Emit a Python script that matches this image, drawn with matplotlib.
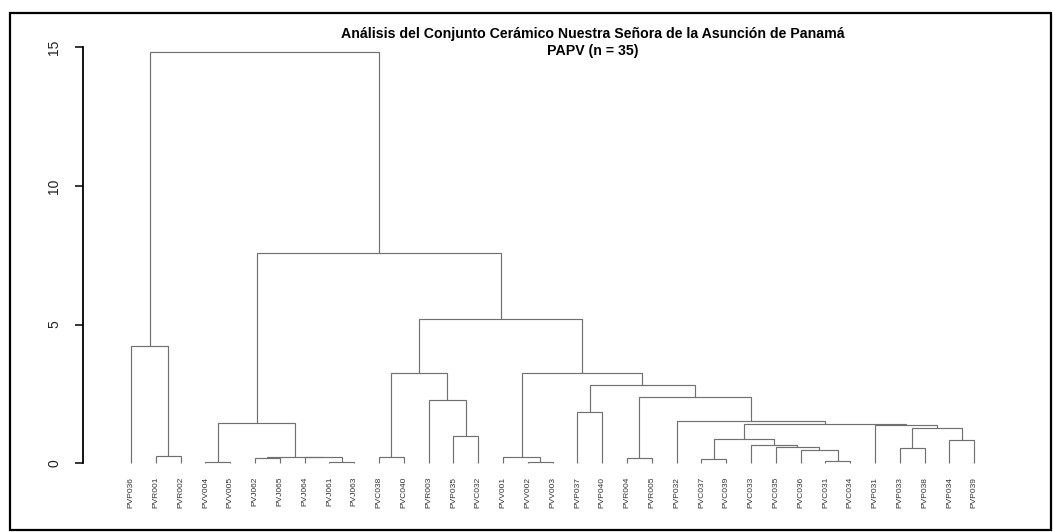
import matplotlib
matplotlib.use("Agg")
import matplotlib.pyplot as plt
import matplotlib.transforms as mtransforms
from matplotlib.patches import Rectangle

# ---- data -----------------------------------------------------------------
title_line1 = "Análisis del Conjunto Cerámico Nuestra Señora de la Asunción de Panamá"
title_line2 = "PAPV (n = 35)"

leaf_labels = [
    "PVP036", "PVR001", "PVR002", "PVV004", "PVV005", "PVJ062", "PVJ065",
    "PVJ064", "PVJ061", "PVJ063", "PVC038", "PVC040", "PVR003", "PVP035",
    "PVC032", "PVV001", "PVV002", "PVV003", "PVP037", "PVP040", "PVR004",
    "PVR005", "PVP032", "PVC037", "PVC039", "PVC033", "PVC035", "PVC036",
    "PVC031", "PVC034", "PVP031", "PVP033", "PVP038", "PVP034", "PVP039",
]

# merges: a str is a leaf label, an int refers to an earlier merge
merge_left = [
    "PVR001", "PVP036", "PVV004", "PVJ062", "PVJ061", "PVJ064", 3, 2,
    "PVC038", "PVP035", "PVR003", 8, "PVV002", "PVV001", "PVP037", "PVR004",
    "PVC037", "PVC031", "PVC036", "PVC035", "PVC033", 16, "PVP033", "PVP034",
    22, "PVP031", 21, "PVP032", 15, 14, 13, 11, 7, 1,
]
merge_right = [
    "PVR002", 0, "PVV005", "PVJ065", "PVJ063", 4, 5, 6,
    "PVC040", "PVC032", 9, 10, "PVV003", 12, "PVP040", "PVR005",
    "PVC039", "PVC034", 17, 18, 19, 20, "PVP038", "PVP039",
    23, 24, 25, 26, 27, 28, 29, 30, 31, 32,
]
merge_height = [
    0.25, 4.22, 0.03, 0.19, 0.04, 0.20, 0.21, 1.43,
    0.22, 0.99, 2.28, 3.24, 0.04, 0.22, 1.83, 0.18,
    0.13, 0.07, 0.47, 0.57, 0.64, 0.87, 0.54, 0.84,
    1.25, 1.38, 1.41, 1.53, 2.37, 2.83, 3.24, 5.19, 7.58, 14.82,
]
y_ticks = [0, 5, 10, 15]

# ---- figure ---------------------------------------------------------------
W, H, DPI = 1053, 532, 100
fig = plt.figure(figsize=(W / DPI, H / DPI), dpi=DPI)
plt.rcParams['font.family'] = ['Liberation Sans', 'DejaVu Sans']

# pixel geometry of the plot
ax_left_px, ax_right_px = 83, 1030
ax_top_px, ax_bot_px = 40, 470
x0_px, dx_px = 131, 24.8          # leaf 0 position, leaf spacing
y0_px, dy_px = 463, 27.7          # height 0 position, px per unit

ax = fig.add_axes([ax_left_px / W, 1 - ax_bot_px / H,
                   (ax_right_px - ax_left_px) / W, (ax_bot_px - ax_top_px) / H])
ax.set_xlim(-(x0_px - ax_left_px) / dx_px,
            (ax_right_px - x0_px) / dx_px)
ax.set_ylim(-(ax_bot_px - y0_px) / dy_px, (y0_px - ax_top_px) / dy_px)

leaf_pos = {lab: i for i, lab in enumerate(leaf_labels)}
node_x, node_h = [], []


def info(ref):
    if isinstance(ref, str):
        return leaf_pos[ref], 0.0
    return node_x[ref], node_h[ref]


line_col = "#707070"
for l, r, h in zip(merge_left, merge_right, merge_height):
    xl, hl = info(l)
    xr, hr = info(r)
    ax.plot([xl, xl, xr, xr], [hl, h, h, hr], color=line_col, lw=0.85,
            solid_joinstyle="miter", solid_capstyle="butt")
    node_x.append((xl + xr) / 2)
    node_h.append(h)

# leaf labels
lab_tr = mtransforms.offset_copy(ax.transData, fig=fig, x=0, y=-14, units="dots")
for i, lab in enumerate(leaf_labels):
    ax.text(i, 0, lab, rotation=90, ha="center", va="top", fontsize=6,
            color="#333333", transform=lab_tr)

# axes styling (R-like)
for s in ["top", "right", "bottom"]:
    ax.spines[s].set_visible(False)
ax.spines["left"].set_bounds(0, 15)
ax.spines["left"].set_linewidth(1.3)
ax.set_xticks([])
ax.set_yticks(y_ticks)
ax.set_yticklabels([str(t) for t in y_ticks], rotation=90, va="center")
ax.tick_params(axis="y", length=5.8, width=1.1, pad=10, labelsize=10,
               labelcolor="#222222")

# title
fig.text(593 / W, 1 - 34 / H, title_line1, ha="center", va="center",
         fontsize=10.2, fontweight="bold")
fig.text(593 / W, 1 - 51 / H, title_line2, ha="center", va="center",
         fontsize=10.2, fontweight="bold")

# outer frame
fig.patches.append(Rectangle((9.5 / W, 1 - 530 / H), (1051 - 9.5) / W,
                             (530 - 13) / H, transform=fig.transFigure,
                             fill=False, edgecolor="black", lw=1.6))

fig.savefig("out.png", dpi=DPI)
